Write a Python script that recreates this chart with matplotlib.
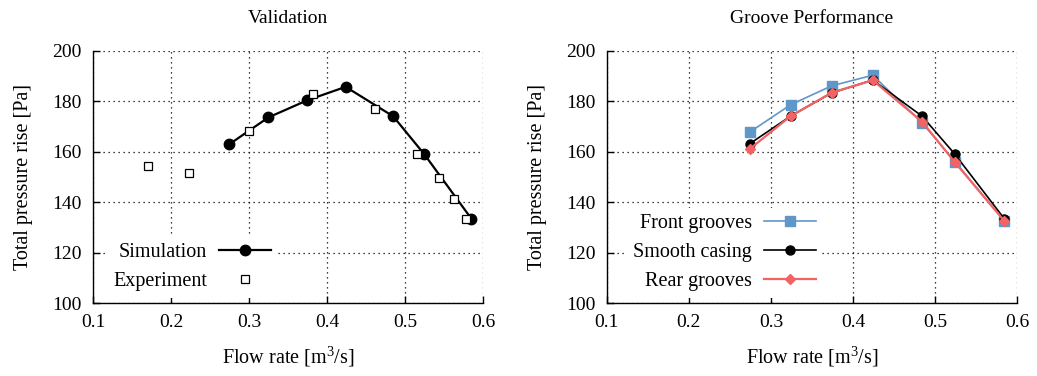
import matplotlib
matplotlib.use('Agg')
import matplotlib.pyplot as plt

# Validation panel
sim_q = [0.275, 0.325, 0.375, 0.424, 0.485, 0.525, 0.585]
sim_p = [163.0, 173.6, 180.4, 185.7, 174.0, 158.9, 133.5]
exp_q = [0.170, 0.223, 0.300, 0.382, 0.461, 0.516, 0.544, 0.563, 0.578]
exp_p = [154.2, 151.7, 168.0, 182.9, 177.0, 159.1, 149.4, 141.3, 133.2]

# Groove performance panel
groove_q = [0.274, 0.324, 0.374, 0.424, 0.484, 0.524, 0.584]
front_p = [167.7, 178.6, 186.1, 190.3, 171.5, 156.1, 132.6]
smooth_p = [163.1, 174.1, 183.3, 188.4, 174.1, 159.0, 133.5]
rear_p = [161.0, 174.1, 183.4, 188.3, 171.9, 155.8, 132.6]

x_ticks = [0.1, 0.2, 0.3, 0.4, 0.5, 0.6]
y_ticks = [100, 120, 140, 160, 180, 200]

plt.rcParams['font.family'] = ['Liberation Serif', 'DejaVu Serif']
plt.rcParams['mathtext.fontset'] = 'custom'
plt.rcParams['mathtext.rm'] = 'Liberation Serif'
plt.rcParams['font.size'] = 14

fig = plt.figure(figsize=(10.37, 3.76), dpi=100)
ax1 = fig.add_axes([0.0897, 0.194, 0.376, 0.671])
ax2 = fig.add_axes([0.585, 0.194, 0.396, 0.671])


def style(ax, title):
    ax.set_xlim(0.1, 0.6)
    ax.set_ylim(100, 200)
    ax.set_xticks(x_ticks)
    ax.set_yticks(y_ticks)
    ax.set_xticklabels([f'{t:g}' for t in x_ticks])
    ax.spines['top'].set_visible(False)
    ax.spines['right'].set_visible(False)
    for s in ('left', 'bottom'):
        ax.spines[s].set_linewidth(1.0)
    ax.tick_params(direction='in', length=5, width=1, pad=8, labelsize=14)
    ax.grid(True, color='black', linestyle=(0, (1, 3)), linewidth=0.9)
    ax.set_axisbelow(True)
    ax.set_title(title, fontsize=14, pad=20)
    ax.set_xlabel('Flow rate [m$^3$/s]', fontsize=14.5, labelpad=9)
    ax.set_ylabel('Total pressure rise [Pa]', fontsize=14.5, labelpad=14)


def legend(ax, right_edge):
    ax.legend(loc='lower right', bbox_to_anchor=(right_edge, 0.022),
              borderaxespad=0, markerfirst=False, frameon=True,
              fancybox=False, edgecolor='none', facecolor='white',
              framealpha=1, handlelength=2.6, handletextpad=0.6,
              labelspacing=0.5, borderpad=0.3, fontsize=14.5)


style(ax1, 'Validation')
ax1.plot(sim_q, sim_p, color='black', lw=1.6, marker='o', ms=7.5,
         label='Simulation', zorder=3)
ax1.plot(exp_q, exp_p, ls='none', marker='s', ms=6, mfc='white',
         mec='black', mew=0.9, label='Experiment', zorder=4)
legend(ax1, 0.473)

style(ax2, 'Groove Performance')
ax2.plot(groove_q, front_p, color='#5f97c8', lw=1.2, marker='s', ms=6.5,
         label='Front grooves', zorder=3)
ax2.plot(groove_q, smooth_p, color='black', lw=1.2, marker='o', ms=6.5,
         label='Smooth casing', zorder=4)
ax2.plot(groove_q, rear_p, color='#f26363', lw=1.6, marker='D', ms=5.5,
         label='Rear grooves', zorder=5)
legend(ax2, 0.525)

fig.savefig('out.png', dpi=100)
